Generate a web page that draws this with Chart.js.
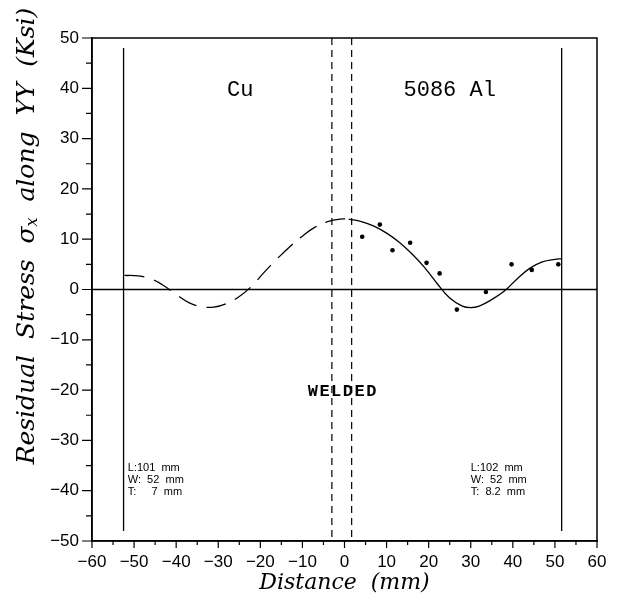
<!DOCTYPE html>
<html lang="en">
<head>
    <meta charset="UTF-8">
    <title>Residual Stress along YY</title>
    <script src="https://cdn.jsdelivr.net/npm/chart.js"></script>
    <style>
        html, body { margin: 0; padding: 0; background: #fff; }
        .chart-container { width: 620px; height: 598px; position: relative; }
    </style>
</head>
<body>
    <div class="chart-container">
        <canvas id="stressChart"></canvas>
    </div>

    <script>
// Cu side (dashed fit curve)
const cuDist   = [-52.3, -49, -46, -43, -40, -37, -34, -31, -28, -25, -22, -19, -16, -13, -10, -7, -4, -1, 1];
const cuStress = [2.8, 2.7, 2.1, 0.8, -1.0, -2.6, -3.4, -3.5, -2.8, -1.4, 0.7, 3.5, 6.1, 8.5, 10.6, 12.4, 13.5, 14.0, 14.0];

// 5086 Al side (solid fit curve)
const alDist   = [1, 4, 7, 10, 13, 16, 19, 22, 25, 28, 30, 32, 35, 38, 41, 44, 47, 50, 51.6];
const alStress = [14.0, 13.5, 12.6, 11.2, 9.4, 7.1, 4.4, 1.2, -1.7, -3.3, -3.6, -3.3, -2.0, -0.3, 2.1, 4.2, 5.5, 6.0, 6.1];

// measured points
const measDist   = [4.2, 8.4, 11.4, 15.6, 19.5, 22.6, 26.7, 33.6, 39.7, 44.5, 50.8];
const measStress = [10.5, 12.9, 7.8, 9.3, 5.3, 3.2, -4.0, -0.5, 5.0, 3.9, 5.0];

// plate edges and weld zone
const plateEdges = [-52.5, 51.6];
const plateEdgeTop = 48;
const plateEdgeBottom = -48;
const weldEdges = [-3.0, 1.7];

const xTicks = [-60, -50, -40, -30, -20, -10, 0, 10, 20, 30, 40, 50, 60];
const yTicks = [-50, -40, -30, -20, -10, 0, 10, 20, 30, 40, 50];

const toPoints = (xs, ys) => xs.map((x, i) => ({ x: x, y: ys[i] }));
const minus = v => String(v).replace('-', '\u2212');

const datasets = [
    {
        data: toPoints(cuDist, cuStress), showLine: true, borderColor: '#000', borderWidth: 1.3,
        borderDash: [20, 10], pointRadius: 0, tension: 0.4, fill: false
    },
    {
        data: toPoints(alDist, alStress), showLine: true, borderColor: '#000', borderWidth: 1.3,
        pointRadius: 0, tension: 0.4, fill: false
    },
    {
        data: toPoints(measDist, measStress), showLine: false, pointRadius: 2.3,
        pointBackgroundColor: '#000', pointBorderWidth: 0
    },
    {
        // zero line
        data: [{ x: xTicks[0], y: 0 }, { x: xTicks[xTicks.length - 1], y: 0 }], showLine: true,
        borderColor: '#000', borderWidth: 1.3, pointRadius: 0
    }
];
plateEdges.forEach(x => datasets.push({
    data: [{ x: x, y: plateEdgeTop }, { x: x, y: plateEdgeBottom }], showLine: true,
    borderColor: '#000', borderWidth: 1.3, pointRadius: 0
}));
weldEdges.forEach(x => datasets.push({
    data: [{ x: x, y: yTicks[yTicks.length - 1] }, { x: x, y: yTicks[0] }], showLine: true,
    borderColor: '#000', borderWidth: 1.2, borderDash: [7, 5], pointRadius: 0
}));

// frame, minor/major ticks, notes and axis titles
const decorations = {
    id: 'decorations',
    afterDraw(chart) {
        const ctx = chart.ctx;
        const a = chart.chartArea;
        const xs = chart.scales.x, ys = chart.scales.y;
        ctx.save();
        ctx.strokeStyle = '#000';
        ctx.lineWidth = 1.5;
        ctx.strokeRect(a.left, a.top, a.right - a.left, a.bottom - a.top);

        ctx.lineWidth = 1.2;
        ctx.beginPath();
        for (let v = -60; v <= 60; v += 5) {
            const px = xs.getPixelForValue(v);
            const len = v % 10 === 0 ? 7 : 4;
            ctx.moveTo(px, a.bottom);
            ctx.lineTo(px, a.bottom + len);
        }
        for (let v = -50; v <= 50; v += 5) {
            const py = ys.getPixelForValue(v);
            const len = v % 10 === 0 ? 10 : 6;
            ctx.moveTo(a.left, py);
            ctx.lineTo(a.left - len, py);
        }
        ctx.stroke();

        ctx.fillStyle = '#000';
        ctx.textAlign = 'center';
        ctx.textBaseline = 'middle';
        ctx.font = '22px "Liberation Mono"';
        ctx.fillText('Cu', xs.getPixelForValue(-24.8), ys.getPixelForValue(39.6));
        ctx.fillText('5086 Al', xs.getPixelForValue(25), ys.getPixelForValue(39.6));
        ctx.font = 'bold 17px "Liberation Mono"';
        ctx.letterSpacing = '1.5px';
        ctx.fillText('WELDED', xs.getPixelForValue(-0.4), ys.getPixelForValue(-20.3));
        ctx.letterSpacing = '0px';

        ctx.textAlign = 'left';
        ctx.font = '11px "Liberation Sans"';
        const leftNote = ['L:101  mm', 'W:  52  mm', 'T:     7  mm'];
        const rightNote = ['L:102  mm', 'W:  52  mm', 'T:  8.2  mm'];
        leftNote.forEach((t, i) => ctx.fillText(t, xs.getPixelForValue(-51.5), ys.getPixelForValue(-35.5) + i * 12));
        rightNote.forEach((t, i) => ctx.fillText(t, xs.getPixelForValue(30), ys.getPixelForValue(-35.5) + i * 12));

        // x title
        ctx.textAlign = 'center';
        ctx.font = 'italic 22px "DejaVu Serif"';
        ctx.fillText('Distance  (mm)', (a.left + a.right) / 2, 583);

        // y title, rotated, with subscript x
        ctx.translate(27, 236);
        ctx.rotate(-Math.PI / 2);
        const big = 'italic 25px "DejaVu Serif"', small = 'italic 16px "DejaVu Serif"';
        const p1 = 'Residual  Stress  \u03C3', p2 = 'x', p3 = '  along  YY  (Ksi)';
        ctx.font = big; const w1 = ctx.measureText(p1).width, w3 = ctx.measureText(p3).width;
        ctx.font = small; const w2 = ctx.measureText(p2).width;
        let x0 = -(w1 + w2 + w3) / 2;
        ctx.textAlign = 'left';
        ctx.font = big; ctx.fillText(p1, x0, 0);
        ctx.font = small; ctx.fillText(p2, x0 + w1, 6);
        ctx.font = big; ctx.fillText(p3, x0 + w1 + w2, 0);
        ctx.restore();
    }
};

new Chart(document.getElementById('stressChart').getContext('2d'), {
    type: 'scatter',
    data: { datasets: datasets },
    options: {
        responsive: true,
        maintainAspectRatio: false,
        animation: false,
        layout: { padding: { top: 38, right: 23, left: 0, bottom: 0 } },
        plugins: { legend: { display: false }, tooltip: { enabled: false } },
        scales: {
            x: {
                type: 'linear', min: -60, max: 60,
                afterFit: s => { s.height = 57; },
                afterBuildTicks: s => { s.ticks = xTicks.map(v => ({ value: v })); },
                grid: { display: false, drawTicks: false },
                border: { display: true, color: '#000', width: 1.5 },
                ticks: {
                    autoSkip: false, maxRotation: 0, padding: 11, color: '#000',
                    font: { family: 'Liberation Sans', size: 17 },
                    callback: v => minus(v)
                }
            },
            y: {
                type: 'linear', min: -50, max: 50,
                afterFit: s => { s.width = 92; },
                afterBuildTicks: s => { s.ticks = yTicks.map(v => ({ value: v })); },
                grid: { display: false, drawTicks: false },
                border: { display: true, color: '#000', width: 1.5 },
                ticks: {
                    autoSkip: false, padding: 13, color: '#000',
                    font: { family: 'Liberation Sans', size: 17 },
                    callback: v => minus(v)
                }
            }
        }
    },
    plugins: [decorations]
});
    </script>
</body>
</html>
